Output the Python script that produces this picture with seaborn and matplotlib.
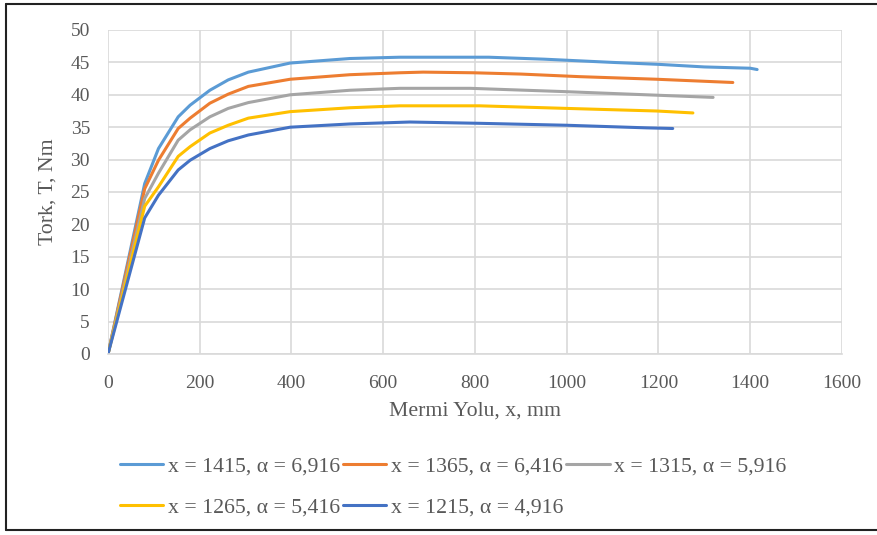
import matplotlib
matplotlib.use("Agg")
import matplotlib.pyplot as plt
import seaborn as sns
import pandas as pd
from matplotlib.lines import Line2D

# ---- data ----
labels = ["x = 1415, α = 6,916", "x = 1365, α = 6,416", "x = 1315, α = 5,916",
          "x = 1265, α = 5,416", "x = 1215, α = 4,916"]
colors = ["#5B9BD5", "#ED7D31", "#A5A5A5", "#FFC000", "#4472C4"]

x1 = [0, 80, 110, 153, 179, 222, 262, 306, 397, 527, 636, 750, 830, 950, 1100, 1200, 1300, 1400, 1415]
y1 = [0, 26.3, 31.7, 36.6, 38.4, 40.7, 42.3, 43.5, 44.9, 45.6, 45.8, 45.8, 45.8, 45.5, 45.0, 44.7, 44.3, 44.1, 43.9]

x2 = [0, 80, 110, 153, 179, 222, 262, 306, 397, 527, 636, 687, 796, 900, 1028, 1196, 1362]
y2 = [0, 25.5, 29.9, 34.8, 36.4, 38.7, 40.1, 41.3, 42.4, 43.1, 43.4, 43.5, 43.4, 43.2, 42.8, 42.4, 41.9]

x3 = [0, 80, 110, 153, 179, 222, 262, 306, 397, 527, 636, 790, 992, 1174, 1319]
y3 = [0, 24.0, 27.9, 33.0, 34.6, 36.6, 37.9, 38.8, 40.0, 40.7, 41.0, 41.0, 40.5, 40.0, 39.6]

x4 = [0, 80, 110, 153, 179, 222, 262, 306, 397, 527, 636, 810, 1000, 1196, 1275]
y4 = [0, 22.8, 25.8, 30.5, 32.0, 34.1, 35.3, 36.4, 37.4, 38.0, 38.3, 38.3, 37.9, 37.5, 37.2]

x5 = [0, 80, 110, 153, 179, 222, 262, 306, 397, 527, 658, 810, 1000, 1174, 1231]
y5 = [0, 21.0, 24.5, 28.4, 29.9, 31.7, 32.9, 33.8, 35.0, 35.5, 35.8, 35.6, 35.3, 34.9, 34.8]

xticks = [0, 200, 400, 600, 800, 1000, 1200, 1400, 1600]
yticks = [0, 5, 10, 15, 20, 25, 30, 35, 40, 45, 50]

frames = []
for lab, xs, ys in zip(labels, [x1, x2, x3, x4, x5], [y1, y2, y3, y4, y5]):
    frames.append(pd.DataFrame({"x": xs, "y": ys, "series": lab, "order": range(len(xs))}))
df = pd.concat(frames, ignore_index=True)

# ---- style ----
sns.set_theme(style="white")
plt.rcParams['font.family'] = ['Liberation Serif', 'DejaVu Serif']
txt = "#595959"
grid = "#D9D9D9"

fig = plt.figure(figsize=(8.78, 5.35), dpi=100)
ax = fig.add_axes([108/878, 1-354/535, (842-108)/878, (354-30)/535])

sns.lineplot(data=df, x="x", y="y", hue="series", hue_order=labels,
             palette=colors, sort=False, estimator=None, units="series",
             linewidth=2.2, ax=ax, legend=False)

ax.set_xlim(0, 1600)
ax.set_ylim(0, 50)
ax.set_xticks(xticks)
ax.set_yticks(yticks)
ax.grid(True, color=grid, linewidth=1.2)
ax.set_axisbelow(True)
for s in ["top", "right", "left"]:
    ax.spines[s].set_visible(False)
ax.spines["bottom"].set_color(grid)
ax.spines["bottom"].set_linewidth(1.2)
ax.tick_params(axis="both", colors=txt, labelsize=14, length=0)
ax.tick_params(axis="x", pad=15)
ax.tick_params(axis="y", pad=13)
ax.set_xlabel("Mermi Yolu, x, mm", fontsize=15.7, color=txt, labelpad=7)
ax.set_ylabel("Tork, T, Nm", fontsize=15.7, color=txt, labelpad=9)

handles = [Line2D([0], [0], color=c, linewidth=2.2) for c in colors]
order = [0, 3, 1, 4, 2]
leg = fig.legend([handles[i] for i in order], [labels[i] for i in order],
                 loc="center", bbox_to_anchor=(453/878, 1-487/535), ncol=3,
                 frameon=False, fontsize=15.7, handlelength=2.0,
                 handletextpad=0.2, columnspacing=0.14, labelspacing=0.95)
for t in leg.get_texts():
    t.set_color(txt)

# outer frame (left, top, bottom)
fig.add_artist(Line2D([6/878, 6/878], [1-4/535, 1-530/535], transform=fig.transFigure, color="#222222", linewidth=1.5))
fig.add_artist(Line2D([6/878, 1], [1-4/535, 1-4/535], transform=fig.transFigure, color="#222222", linewidth=1.5))
fig.add_artist(Line2D([6/878, 1], [1-530/535, 1-530/535], transform=fig.transFigure, color="#222222", linewidth=1.5))

fig.savefig("out.png", dpi=100)
